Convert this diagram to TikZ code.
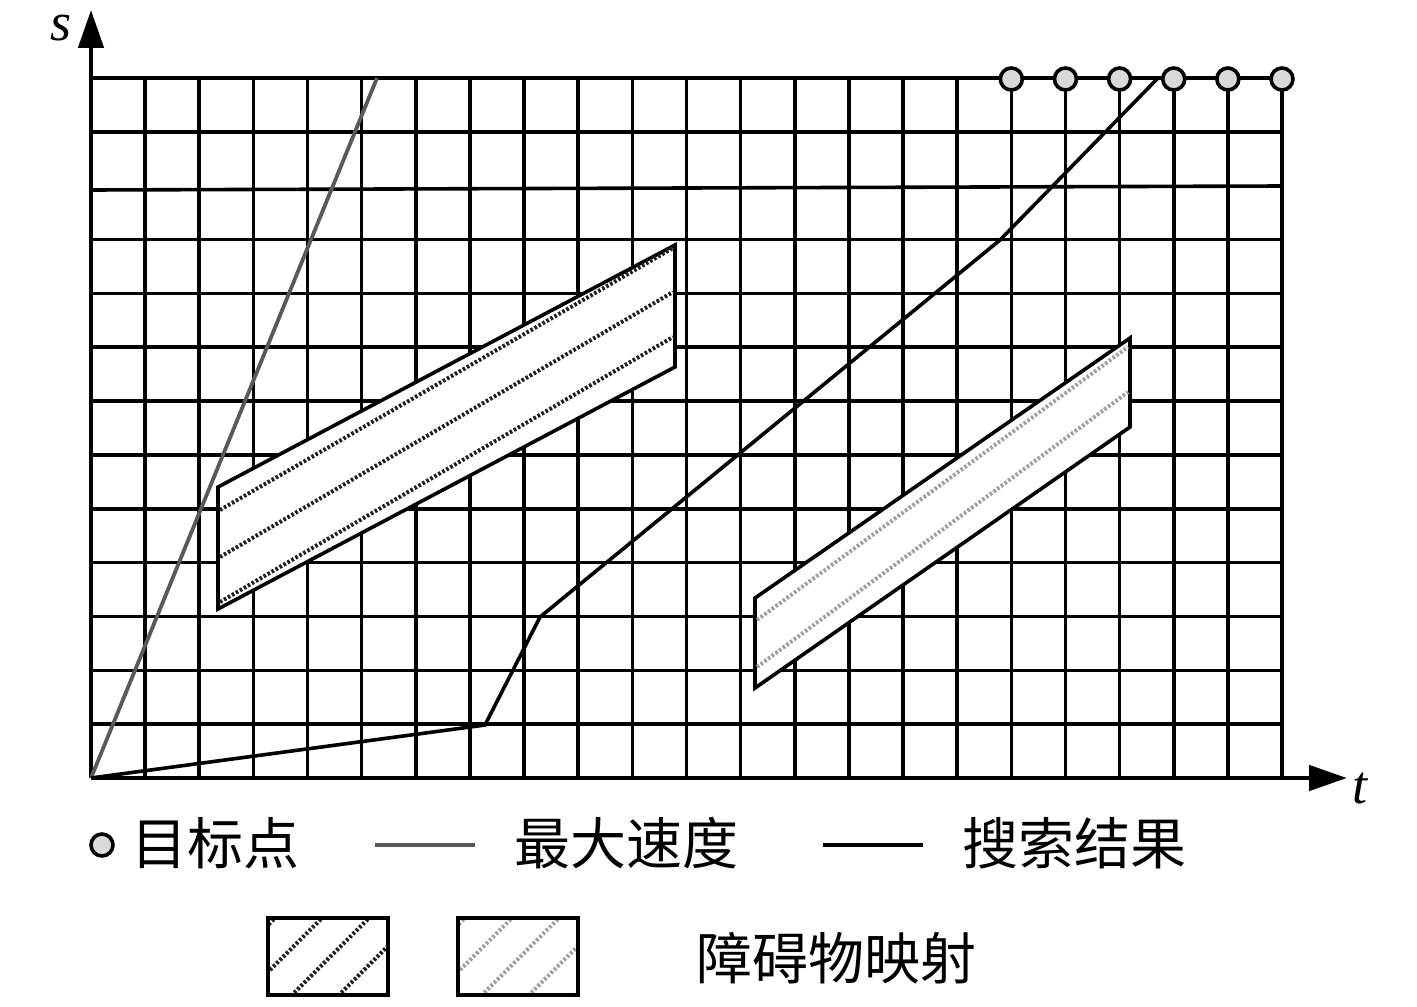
\documentclass[tikz,border=0pt]{standalone}
\usepackage{fontspec}
\setmainfont{Liberation Serif}
\newfontfamily\cjk{Noto Sans CJK SC}
\usetikzlibrary{arrows.meta}
\definecolor{speedgray}{HTML}{595959}
\definecolor{hatchdark}{HTML}{1F1F1F}
\definecolor{hatchlight}{HTML}{A0A0A0}
\definecolor{targetfill}{HTML}{D9D9D9}
\begin{document}
\begin{tikzpicture}[x=0.5pt,y=-0.5pt,
  gridline/.style={line width=1.8pt,black},
  axisline/.style={line width=2.4pt,black,-{Triangle[length=19pt,width=12.5pt]}},
  maxspeed/.style={line width=1.9pt,draw=speedgray},
  result/.style={line width=1.8pt,black,line join=miter},
  obst/.style={line width=1.8pt,draw=black,fill=white,line join=miter},
  darkhatch/.style={line width=2pt,draw=hatchdark,dash pattern=on 1.3pt off 1.0pt},
  lighthatch/.style={line width=2pt,draw=hatchlight,dash pattern=on 1.3pt off 1.0pt},
  target/.style={circle,draw=black,line width=1.8pt,fill=targetfill,minimum size=11pt,inner sep=0pt},
  cjklabel/.style={font=\cjk\fontsize{28}{30}\selectfont,inner sep=0pt,anchor=west},
  axislabel/.style={font=\fontsize{27}{30}\selectfont\itshape,inner sep=0pt},
  legendline/.style={line width=2.4pt},
]
\useasboundingbox (0,0) rectangle (1417,1006);

% grid
\foreach \k in {1,...,22}
  \draw[gridline] ({91+54.136*\k},78) -- ({91+54.136*\k},778);
\foreach \j in {0,1,3,4,5,6,7,8,9,10,11,12}
  \draw[gridline] (91,{78+53.846*\j}) -- (1282,{78+53.846*\j});
\draw[gridline] (91,190) -- (1282,186);

% axes
\coordinate (O) at (91,778);
\coordinate (Yend) at (91,10);
\coordinate (Xend) at (1347,778);
\draw[axisline] (O) -- (Yend);
\draw[axisline] (O) -- (Xend);
\node[axislabel] (slab) at (61,28) {s};
\node[axislabel] (tlab) at (1360,789) {t};

% maximum speed line
\coordinate (MS) at (377,78);
\draw[maxspeed] (O) -- (MS);

% search result
\coordinate (R1) at (485,725);
\coordinate (R2) at (540,617);
\coordinate (R3) at (1000,240);
\coordinate (R4) at (1158,78);
\draw[result] (O) -- (R1) -- (R2) -- (R3) -- (R4);

% obstacle 1
\coordinate (A1) at (218,487);
\coordinate (A2) at (675,245);
\coordinate (A3) at (675,367);
\coordinate (A4) at (218,609);
\draw[obst] (A1) -- (A2) -- (A3) -- (A4) -- cycle;
\coordinate (h1a) at (220,510); \coordinate (h1b) at (673,248);
\coordinate (h2a) at (220,557); \coordinate (h2b) at (673,292);
\coordinate (h3a) at (220,602); \coordinate (h3b) at (673,337);
\draw[darkhatch] (h1a) -- (h1b);
\draw[darkhatch] (h2a) -- (h2b);
\draw[darkhatch] (h3a) -- (h3b);

% obstacle 2
\coordinate (B1) at (755,598);
\coordinate (B2) at (1130,338);
\coordinate (B3) at (1130,427);
\coordinate (B4) at (755,688);
\draw[obst] (B1) -- (B2) -- (B3) -- (B4) -- cycle;
\coordinate (g1a) at (757,620); \coordinate (g1b) at (1128,347);
\coordinate (g2a) at (757,667); \coordinate (g2b) at (1128,392);
\draw[lighthatch] (g1a) -- (g1b);
\draw[lighthatch] (g2a) -- (g2b);

% target points
\foreach \k in {17,...,22}
  \node[target] (t\k) at ({91+54.136*\k},79) {};

% legend row 1
\node[target] (legT) at (102,845) {};
\node[cjklabel] (legTtxt) at (131,843) {目标点};
\coordinate (lg1a) at (375,845); \coordinate (lg1b) at (475,845);
\draw[legendline,draw=speedgray] (lg1a) -- (lg1b);
\node[cjklabel] (legMtxt) at (514,843) {最大速度};
\coordinate (lg2a) at (823,845); \coordinate (lg2b) at (923,845);
\draw[legendline,black] (lg2a) -- (lg2b);
\node[cjklabel] (legRtxt) at (962,843) {搜索结果};

% legend row 2
\begin{scope}
  \clip (268,918) rectangle (388,995);
  \foreach \c in {1193,1240,1287,1334,1381}
    \draw[darkhatch] ({\c-1100},1100) -- ({\c-900},900);
\end{scope}
\node[draw=black,line width=1.8pt,inner sep=0pt,minimum width=60pt,minimum height=38.5pt] (box1) at (328,956.5) {};
\begin{scope}
  \clip (458,918) rectangle (578,995);
  \foreach \c in {1383,1430,1477,1524,1571}
    \draw[lighthatch] ({\c-1100},1100) -- ({\c-900},900);
\end{scope}
\node[draw=black,line width=1.8pt,inner sep=0pt,minimum width=60pt,minimum height=38.5pt] (box2) at (518,956.5) {};
\node[cjklabel] (legOtxt) at (696,958) {障碍物映射};
\end{tikzpicture}
\end{document}
